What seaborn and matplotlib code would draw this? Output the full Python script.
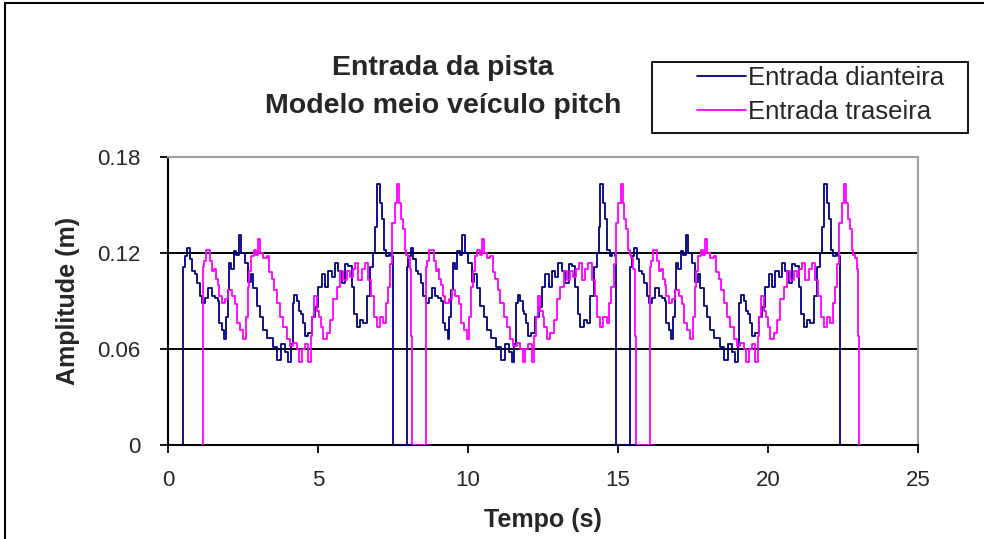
import numpy as np
import pandas as pd
import matplotlib
matplotlib.use("Agg")
import matplotlib.pyplot as plt
import seaborn as sns
from matplotlib.patches import Rectangle

# dados ------------------------------------------------------------------
# perfil da entrada dianteira (1º ciclo), tempo em s e amplitude em m
front_t = [0.51, 0.51, 0.59, 0.68, 0.76, 0.84, 0.93, 1.01, 1.09, 1.18,
           1.29, 1.40, 1.51, 1.62, 1.68, 1.73, 1.84, 1.90, 1.96, 2.01,
           2.07, 2.16, 2.23, 2.31, 2.40, 2.48, 2.62, 2.73, 2.79, 2.90,
           3.03, 3.12, 3.23, 3.40, 3.57, 3.71, 3.84, 3.96, 4.07, 4.12,
           4.18, 4.23, 4.34, 4.40, 4.46, 4.51, 4.60, 4.73, 4.84, 4.96,
           5.07, 5.18, 5.29, 5.40, 5.51, 5.62, 5.73, 5.84, 5.96, 6.07,
           6.18, 6.23, 6.34, 6.46, 6.57, 6.68, 6.79, 6.88, 6.92, 7.01,
           7.10, 7.16, 7.23, 7.32, 7.40, 7.48, 7.50]
front_v = [0.000, 0.111, 0.118, 0.123, 0.116, 0.109, 0.107, 0.101, 0.093, 0.089,
           0.092, 0.098, 0.093, 0.092, 0.090, 0.076, 0.072, 0.066, 0.080, 0.097,
           0.114, 0.110, 0.121, 0.119, 0.131, 0.120, 0.114, 0.102, 0.107, 0.098,
           0.087, 0.080, 0.072, 0.067, 0.061, 0.053, 0.063, 0.058, 0.052, 0.063,
           0.089, 0.094, 0.090, 0.084, 0.082, 0.076, 0.068, 0.070, 0.080, 0.086,
           0.099, 0.107, 0.099, 0.109, 0.105, 0.114, 0.109, 0.101, 0.113, 0.112,
           0.099, 0.082, 0.074, 0.078, 0.076, 0.093, 0.111, 0.120, 0.136, 0.163,
           0.151, 0.141, 0.122, 0.118, 0.120, 0.118, 0.000]

# perfil da entrada traseira (1º ciclo)
rear_t = [1.15, 1.15, 1.16, 1.23, 1.30, 1.38, 1.45, 1.51, 1.57, 1.62,
          1.68, 1.73, 1.84, 1.96, 2.07, 2.18, 2.29, 2.34, 2.46, 2.57,
          2.62, 2.68, 2.73, 2.82, 2.90, 2.97, 3.04, 3.12, 3.23, 3.34,
          3.40, 3.51, 3.57, 3.68, 3.79, 3.90, 4.01, 4.12, 4.23, 4.34,
          4.40, 4.51, 4.62, 4.73, 4.79, 4.84, 4.92, 5.01, 5.07, 5.12,
          5.23, 5.34, 5.46, 5.57, 5.68, 5.79, 5.90, 6.01, 6.12, 6.18,
          6.29, 6.40, 6.51, 6.62, 6.73, 6.81, 6.90, 7.01, 7.12, 7.23,
          7.29, 7.37, 7.43, 7.51, 7.60, 7.68, 7.73, 7.79, 7.87, 7.91,
          7.96, 8.02, 8.09, 8.12, 8.18]
rear_v = [0.000, 0.058, 0.111, 0.115, 0.122, 0.122, 0.115, 0.109, 0.110, 0.104,
          0.100, 0.093, 0.089, 0.091, 0.097, 0.093, 0.088, 0.076, 0.072, 0.066,
          0.080, 0.099, 0.109, 0.118, 0.122, 0.119, 0.129, 0.120, 0.117, 0.118,
          0.108, 0.104, 0.097, 0.089, 0.080, 0.074, 0.066, 0.062, 0.064, 0.060,
          0.052, 0.060, 0.063, 0.052, 0.068, 0.080, 0.093, 0.084, 0.080, 0.074,
          0.066, 0.070, 0.078, 0.091, 0.099, 0.109, 0.103, 0.109, 0.105, 0.110,
          0.114, 0.103, 0.110, 0.114, 0.103, 0.093, 0.080, 0.074, 0.080, 0.076,
          0.089, 0.099, 0.113, 0.139, 0.151, 0.163, 0.151, 0.141, 0.135, 0.122,
          0.119, 0.117, 0.110, 0.068, 0.000]

# início de cada passagem pela pista (deslocamento em s)
cycle_offsets = [0.0, 7.45, 14.90]

series_names = ["Entrada dianteira", "Entrada traseira"]
colors = ["#000080", "#FF00FF"]
x_ticks = [0, 5, 10, 15, 20, 25]
y_ticks = [0, 0.06, 0.12, 0.18]
y_ticklabels = ["0", "0.06", "0.12", "0.18"]

# monta a tabela ----------------------------------------------------------
rows = []
for name, tt, vv in [(series_names[0], front_t, front_v),
                     (series_names[1], rear_t, rear_v)]:
    for off in cycle_offsets:
        for t, v in zip(tt, vv):
            rows.append((name, t + off, v))
df = pd.DataFrame(rows, columns=["serie", "t", "v"])

# figura -------------------------------------------------------------------
sns.set_style("white")
plt.rcParams["font.family"] = ["Liberation Sans", "DejaVu Sans"]

W, H = 984, 539
fig = plt.figure(figsize=(W / 100, H / 100), dpi=100)
ax = fig.add_axes([168 / W, 1 - 445 / H, 750 / W, 288 / H])

for yy in [0.06, 0.12]:
    ax.axhline(yy, color="black", lw=1.4, zorder=1)

sns.lineplot(data=df, x="t", y="v", hue="serie", palette=colors,
             sort=False, estimator=None, lw=1.3, drawstyle="steps-mid",
             ax=ax, zorder=3, legend=False)

ax.set_xlim(0, 25)
ax.set_ylim(0, 0.18)
ax.set_xticks(x_ticks)
ax.set_xticklabels([str(x) for x in x_ticks], fontsize=16)
ax.set_yticks(y_ticks)
ax.set_yticklabels(y_ticklabels, fontsize=16)
ax.tick_params(axis="both", direction="out", length=6, width=1.3,
               color="black", bottom=True, left=True)
ax.tick_params(axis="x", pad=12)
ax.tick_params(axis="y", pad=14)

for s in ["left", "bottom"]:
    ax.spines[s].set_color("black")
    ax.spines[s].set_linewidth(1.5)
for s in ["top", "right"]:
    ax.spines[s].set_color("#A0A0A0")
    ax.spines[s].set_linewidth(1.5)

ax.set_xlabel("Tempo (s)", fontsize=18, fontweight="bold", labelpad=12)
ax.set_ylabel("Amplitude (m)", fontsize=18, fontweight="bold", labelpad=12)

fig.text(443 / W, 1 - 68 / H, "Entrada da pista", ha="center", va="center",
         fontsize=20.5, fontweight="bold")
fig.text(443 / W, 1 - 106 / H, "Modelo meio veículo pitch", ha="center",
         va="center", fontsize=20.5, fontweight="bold")

# legenda com caixa desenhada à parte
handles = [plt.Line2D([], [], color=c, lw=1.3) for c in colors]
fig.legend(handles, series_names, loc="upper left",
           bbox_to_anchor=(697 / W, 1 - 66 / H), fontsize=18.5,
           frameon=False, handlelength=1.9, handletextpad=0.1,
           labelspacing=0.38, borderpad=0, borderaxespad=0)
fig.patches.append(Rectangle((652 / W, 1 - 133 / H), 316 / W, 71 / H,
                             transform=fig.transFigure, fill=True,
                             facecolor="white", edgecolor="black", lw=1.3,
                             zorder=-1))

# moldura externa do gráfico
fig.patches.append(Rectangle((5 / W, -0.1), 1.2, 1.1 - 3 / H,
                             transform=fig.transFigure, fill=False,
                             edgecolor="black", lw=1.5))

fig.savefig("out.png", dpi=100)
